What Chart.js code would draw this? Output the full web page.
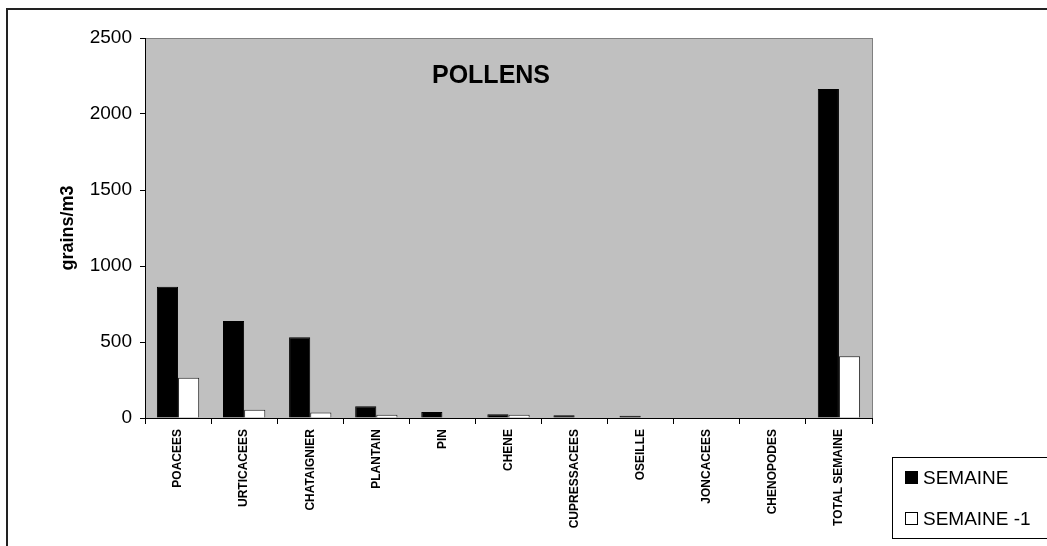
<!DOCTYPE html>
<html>
<head>
<meta charset="utf-8">
<script src="https://cdn.jsdelivr.net/npm/chart.js@4/dist/chart.umd.min.js"></script>
<style>
  html, body { margin: 0; padding: 0; background: #fff; overflow: hidden; }
  #frame { position: absolute; left: 6px; top: 8px; width: 1100px; height: 600px; border: 2px solid #222; box-sizing: border-box; }
  #c { position: absolute; left: 0; top: 0; }
  #legend { position: absolute; left: 892px; top: 457px; width: 170px; height: 82px; border: 1px solid #000; box-sizing: border-box; font-family: Arial, "Liberation Sans", sans-serif; font-size: 19px; color: #000; }
  .item { position: absolute; left: 12px; height: 22px; line-height: 22px; white-space: nowrap; }
  .sw { display: inline-block; width: 11px; height: 11px; border: 1px solid #000; margin-right: 5px; vertical-align: 0px; }
</style>
</head>
<body>
<div id="frame"></div>
<canvas id="c" width="1047" height="546"></canvas>
<div id="legend">
  <div class="item" style="top:9px"><span class="sw" style="background:#000"></span><span id="l1"></span></div>
  <div class="item" style="top:50px"><span class="sw" style="background:#fff"></span><span id="l2"></span></div>
</div>
<script>
const categories = ["POACEES", "URTICACEES", "CHATAIGNIER", "PLANTAIN", "PIN", "CHENE", "CUPRESSACEES", "OSEILLE", "JONCACEES", "CHENOPODES", "TOTAL SEMAINE"];
const seriesNames = ["SEMAINE", "SEMAINE -1"];
const semaine =      [864, 638, 531, 77, 39, 24, 18, 15, 0, 0, 2164];
const semainePrev =  [265, 55, 37, 22, 0, 22, 0, 0, 0, 0, 406];
const yTicks = [0, 500, 1000, 1500, 2000, 2500];
const chartTitle = "POLLENS";
const yTitle = "grains/m3";

document.getElementById('l1').textContent = seriesNames[0];
document.getElementById('l2').textContent = seriesNames[1];

const plotBg = {
  id: 'plotBg',
  beforeDraw(chart) {
    const {ctx, chartArea: a} = chart;
    ctx.save();
    ctx.fillStyle = '#C0C0C0';
    ctx.fillRect(a.left, a.top, a.right - a.left, a.bottom - a.top);
    ctx.strokeStyle = '#808080';
    ctx.lineWidth = 1;
    ctx.strokeRect(a.left + 0.5, a.top + 0.5, a.right - a.left, a.bottom - a.top);
    ctx.restore();
  },
  afterDraw(chart) {
    const {ctx} = chart;
    ctx.save();
    ctx.fillStyle = '#000';
    ctx.font = 'bold 25px Arial, "Liberation Sans", sans-serif';
    ctx.textAlign = 'center';
    ctx.textBaseline = 'middle';
    ctx.fillText(chartTitle, 491, 76);
    ctx.restore();
  }
};

new Chart(document.getElementById('c'), {
  type: 'bar',
  data: {
    labels: categories,
    datasets: [
      { label: seriesNames[0], data: semaine, backgroundColor: '#000', borderColor: '#000', borderWidth: 1, categoryPercentage: 0.64, barPercentage: 1.0 },
      { label: seriesNames[1], data: semainePrev, backgroundColor: '#fff', borderColor: '#222', borderWidth: 1, categoryPercentage: 0.64, barPercentage: 1.0 }
    ]
  },
  options: {
    responsive: false,
    devicePixelRatio: 1,
    animation: false,
    layout: { padding: { left: 0, right: 175, top: 38, bottom: 0 } },
    plugins: { legend: { display: false }, tooltip: { enabled: false }, title: { display: false } },
    scales: {
      x: {
        afterFit(s) { s.height = 128; },
        grid: { display: true, offset: true, drawOnChartArea: false, drawTicks: true, tickLength: 6, color: '#000' },
        border: { display: true, color: '#000', width: 1 },
        ticks: {
          autoSkip: false, minRotation: 90, maxRotation: 90, padding: 5,
          color: '#000', font: { family: 'Arial, "Liberation Sans", sans-serif', size: 12, weight: 'bold' }
        }
      },
      y: {
        min: 0, max: 2500,
        afterFit(s) { s.width = 145; },
        afterBuildTicks(s) { s.ticks = yTicks.map(v => ({ value: v })); },
        grid: { display: true, drawOnChartArea: false, drawTicks: true, tickLength: 5, color: '#000' },
        border: { display: true, color: '#000', width: 1 },
        title: { display: true, text: yTitle, color: '#000', font: { family: 'Arial, "Liberation Sans", sans-serif', size: 18, weight: 'bold' }, padding: { top: 57, bottom: 0 } },
        ticks: { padding: 8, color: '#000', font: { family: 'Arial, "Liberation Sans", sans-serif', size: 19 }, callback: v => String(v) }
      }
    }
  },
  plugins: [plotBg]
});
</script>
</body>
</html>
